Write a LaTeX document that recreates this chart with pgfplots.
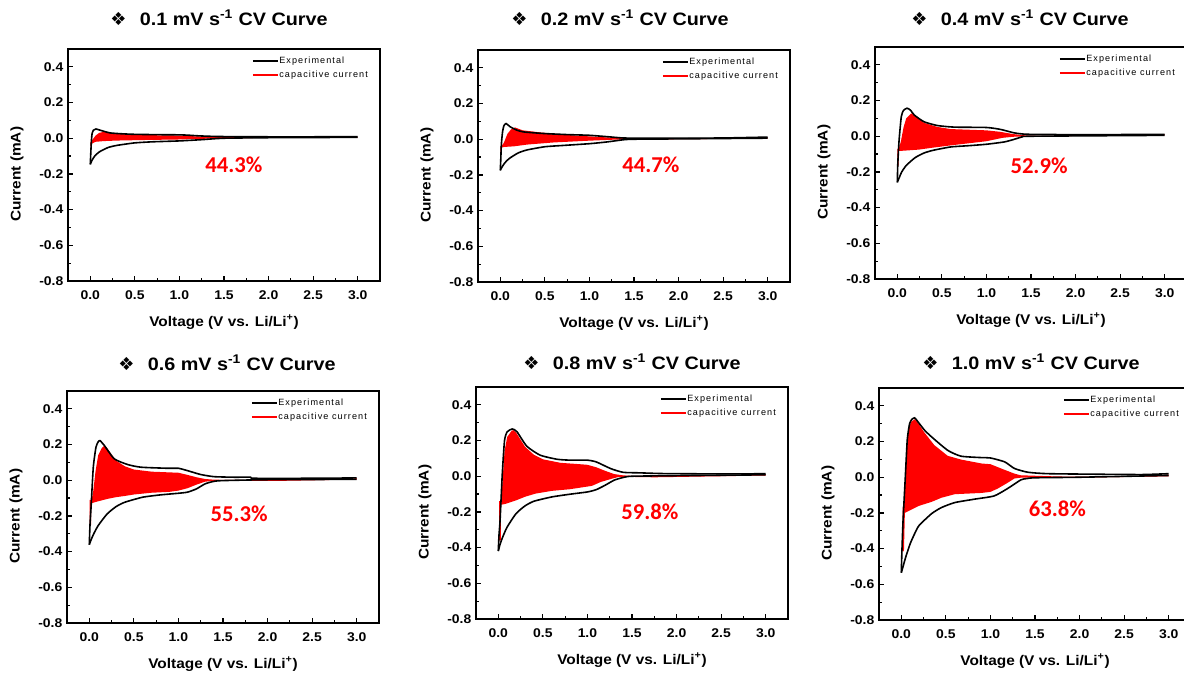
\documentclass[border=0pt]{standalone}
\usepackage{fontspec}
\setmainfont{Liberation Sans}[FakeStretch=1.1]
\newfontfamily\symfont{DejaVu Sans}
\newfontfamily\legfont{Liberation Sans}[LetterSpace=12]
\newfontfamily\pctfont{Carlito}
\usepackage{pgfplots}
\pgfplotsset{compat=1.18}

% one style for all six CV panels
\pgfplotsset{
  cv/.style={
    scale only axis, width=234pt, height=174pt, anchor=north west,
    xmin=-0.25, xmax=3.25, ymin=-0.8, ymax=0.5,
    xtick={0,0.5,1,1.5,2,2.5,3},
    ytick={-0.8,-0.6,-0.4,-0.2,0,0.2,0.4},
    minor x tick num=1, minor y tick num=1,
    xtick pos=bottom, ytick pos=left, tick align=inside,
    major tick length=4pt, minor tick length=2.5pt,
    axis line style={line width=1.2pt},
    every tick/.append style={black, line width=0.9pt},
    /pgf/number format/fixed, /pgf/number format/fixed zerofill,
    /pgf/number format/precision=1, /pgf/number format/assume math mode=true,
    ticklabel style={font=\bfseries\fontsize{9.5}{10}\selectfont},
    xticklabel style={yshift=-3.5pt},
    xlabel={Voltage (V vs. Li/Li\textsuperscript{+})},
    ylabel={Current (mA)},
    label style={font=\bfseries\fontsize{10.5}{12}\selectfont},
    xlabel style={at={(axis description cs:0.5,-0.1767)}, anchor=center},
    ylabel style={at={(axis description cs:-0.1635,0.46)}, anchor=center},
    legend style={at={(axis description cs:0.59,0.97)}, anchor=north west,
      draw=none, fill=none, inner sep=0pt, outer sep=0pt, row sep=2.8pt,
      font=\legfont\fontsize{6.8}{7}\selectfont,
      nodes={inner sep=0.6pt, text height=5pt, text depth=1.5pt}},
    legend cell align=left,
    legend image code/.code={\draw[#1] (0pt,0pt) -- (18.75pt,0pt);},
  },
  exp/.style={black, line width=1.2pt, forget plot, smooth, tension=0.35},
  cap/.style={fill=red, draw=none, forget plot},
}
\tikzset{pct/.style={text=red, font=\pctfont\bfseries\fontsize{17}{20}\selectfont}}
\newcommand{\leg}{%
  \addlegendimage{black, line width=1.1pt}\addlegendentry{Experimental}
  \addlegendimage{red, line width=1.1pt}\addlegendentry{capacitive current}}
\newcommand{\ttl}[1]{{\symfont ❖}\hspace{10pt}#1 mV s\textsuperscript{-1} CV Curve}

\begin{document}
\begin{tikzpicture}
\path[use as bounding box] (0pt,0pt) rectangle (888pt,-504.75pt);

% ---- 0.1 mV/s
\begin{axis}[cv, at={(51pt,-36.75pt)}]
\leg
\addplot[cap] coordinates {(0,-0.02) (0.01,-0.02) (0.03,-0.005) (0.06,0.015) (0.1,0.03) (0.15,0.036) (0.25,0.028) (0.5,0.02) (0.8,0.016) (1.0,0.015) (1.2,0.01) (1.5,0.006) (2.0,0.004) (2.8,0.006) (3.0,0.008)
 (3.0,0.004) (2.0,0.002) (1.5,0.0) (1.2,-0.004) (1.0,-0.007) (0.6,-0.01) (0.3,-0.013) (0.15,-0.016) (0.06,-0.02) (0.02,-0.03) (0.01,-0.045) (0,-0.045)} -- cycle;
% anodic and cathodic branches
\addplot[exp] coordinates {(0,-0.146) (0.005,-0.09) (0.012,-0.02) (0.02,0.025) (0.035,0.045) (0.063,0.052) (0.11,0.045) (0.22,0.03) (0.35,0.025) (0.49,0.022) (0.75,0.02) (1.0,0.019) (1.1,0.017) (1.23,0.013) (1.4,0.01) (1.6,0.009) (2.0,0.008) (2.5,0.008) (3.0,0.009)};
\addplot[exp] coordinates {(3.0,0.005) (2.5,0.004) (2.0,0.003) (1.5,0.0) (1.25,-0.008) (1.0,-0.015) (0.7,-0.02) (0.5,-0.026) (0.3,-0.04) (0.2,-0.052) (0.1,-0.077) (0.05,-0.1) (0.02,-0.123) (0,-0.146)};
\node[pct] at (axis cs:1.61,-0.151) {44.3\%};
\end{axis}

% ---- 0.2 mV/s
\begin{axis}[cv, at={(358.5pt,-37.5pt)}]
\leg
\addplot[cap] coordinates {(0,-0.04) (0.01,-0.04) (0.04,-0.02) (0.08,0.03) (0.12,0.055) (0.165,0.066) (0.25,0.05) (0.45,0.038) (0.8,0.022) (1.0,0.016) (1.2,0.01) (1.5,0.004) (2.0,0.002) (2.9,0.004) (3.0,0.01)
 (3.0,0.004) (2.0,0.0) (1.5,-0.001) (1.3,-0.002) (1.0,-0.008) (0.6,-0.018) (0.3,-0.03) (0.15,-0.04) (0.05,-0.043) (0.02,-0.045) (0.01,-0.085) (0,-0.085)} -- cycle;
\addplot[exp] coordinates {(0,-0.174) (0.005,-0.12) (0.012,-0.03) (0.025,0.04) (0.04,0.075) (0.065,0.088) (0.11,0.07) (0.18,0.052) (0.26,0.041) (0.49,0.032) (0.75,0.026) (1.0,0.022) (1.23,0.013) (1.38,0.007) (1.6,0.006) (2.0,0.006) (2.5,0.007) (3.0,0.012)};
\addplot[exp] coordinates {(3.0,0.006) (2.0,0.002) (1.5,0.0) (1.38,-0.003) (1.2,-0.015) (1.0,-0.025) (0.7,-0.035) (0.5,-0.042) (0.3,-0.06) (0.2,-0.077) (0.1,-0.108) (0.05,-0.133) (0.02,-0.155) (0,-0.174)};
\node[pct] at (axis cs:1.69,-0.142) {44.7\%};
\end{axis}

% ---- 0.4 mV/s
\begin{axis}[cv, at={(656.25pt,-35.25pt)}]
\leg
\addplot[cap] coordinates {(0,-0.07) (0.015,-0.07) (0.04,-0.03) (0.07,0.05) (0.1,0.1) (0.157,0.128) (0.2,0.115) (0.3,0.075) (0.45,0.052) (0.6,0.04) (1.0,0.033) (1.15,0.025) (1.3,0.012) (1.45,0.004) (1.6,0.002) (2.7,0.004) (3.0,0.01)
 (3.0,0.005) (1.6,0.0) (1.45,-0.001) (1.3,-0.003) (1.18,-0.009) (1.0,-0.028) (0.62,-0.05) (0.4,-0.064) (0.24,-0.075) (0.1,-0.08) (0.04,-0.082) (0.015,-0.082) (0.015,-0.165) (0,-0.165)} -- cycle;
\addplot[exp] coordinates {(0,-0.258) (0.006,-0.15) (0.02,-0.023) (0.045,0.11) (0.07,0.145) (0.11,0.157) (0.15,0.145) (0.19,0.119) (0.3,0.081) (0.45,0.06) (0.64,0.051) (1.0,0.049) (1.16,0.038) (1.31,0.019) (1.46,0.011) (2.0,0.009) (3.0,0.01)};
\addplot[exp] coordinates {(3.0,0.005) (1.5,0.0) (1.4,-0.004) (1.3,-0.019) (1.2,-0.032) (1.0,-0.045) (0.8,-0.053) (0.6,-0.06) (0.4,-0.079) (0.3,-0.094) (0.2,-0.12) (0.1,-0.164) (0.05,-0.2) (0.02,-0.234) (0,-0.258)};
\node[pct] at (axis cs:1.59,-0.168) {52.9\%};
\end{axis}

% ---- 0.6 mV/s
\begin{axis}[cv, at={(50.25pt,-293.25pt)}]
\leg
\addplot[cap] coordinates {(0.005,-0.11) (0.02,-0.11) (0.04,-0.08) (0.07,0.05) (0.1,0.14) (0.14,0.18) (0.168,0.193) (0.2,0.18) (0.3,0.11) (0.4,0.078) (0.5,0.06) (0.7,0.048) (1.0,0.042) (1.1,0.03) (1.2,0.017) (1.3,0.007) (1.4,0.003) (2.0,0.0) (2.9,0.004) (3.0,0.012)
 (3.0,0.004) (2.2,-0.003) (1.5,-0.004) (1.4,-0.003) (1.3,-0.008) (1.2,-0.025) (1.1,-0.045) (1.0,-0.058) (0.9,-0.065) (0.7,-0.07) (0.5,-0.08) (0.4,-0.088) (0.3,-0.095) (0.2,-0.105) (0.1,-0.118) (0.05,-0.125) (0.02,-0.13) (0.02,-0.25) (0.005,-0.25)} -- cycle;
\addplot[exp] coordinates {(0,-0.361) (0.008,-0.25) (0.02,-0.15) (0.045,0.073) (0.075,0.185) (0.1,0.215) (0.12,0.222) (0.17,0.194) (0.28,0.12) (0.43,0.088) (0.58,0.073) (0.88,0.067) (1.0,0.067) (1.1,0.054) (1.25,0.032) (1.4,0.02) (1.62,0.017) (1.81,0.017) (1.85,0.011) (2.5,0.011) (3.0,0.013)};
\addplot[exp] coordinates {(3.0,0.005) (2.0,0.003) (1.5,-0.002) (1.4,-0.006) (1.3,-0.02) (1.2,-0.049) (1.1,-0.067) (1.0,-0.073) (0.8,-0.082) (0.6,-0.095) (0.4,-0.123) (0.3,-0.148) (0.2,-0.189) (0.1,-0.254) (0.05,-0.3) (0.02,-0.334) (0,-0.361)};
\node[pct] at (axis cs:1.68,-0.188) {55.3\%};
\end{axis}

% ---- 0.8 mV/s
\begin{axis}[cv, at={(357pt,-290.25pt)}]
\leg
\addplot[cap] coordinates {(0.01,-0.14) (0.03,-0.14) (0.045,-0.05) (0.07,0.14) (0.1,0.22) (0.15,0.255) (0.17,0.258) (0.2,0.245) (0.3,0.165) (0.4,0.12) (0.5,0.095) (0.7,0.075) (0.9,0.068) (1.0,0.064) (1.1,0.05) (1.2,0.03) (1.3,0.012) (1.4,0.005) (1.5,0.002) (1.75,0.002) (2.7,0.003) (3.0,0.012)
 (3.0,0.004) (1.75,-0.006) (1.5,-0.004) (1.35,-0.004) (1.28,-0.013) (1.15,-0.032) (1.05,-0.054) (0.8,-0.073) (0.6,-0.082) (0.42,-0.097) (0.3,-0.115) (0.2,-0.135) (0.08,-0.155) (0.03,-0.16) (0.03,-0.36) (0.01,-0.36)} -- cycle;
\addplot[exp] coordinates {(0,-0.419) (0.008,-0.33) (0.02,-0.247) (0.045,0.015) (0.07,0.2) (0.1,0.249) (0.157,0.265) (0.21,0.249) (0.32,0.168) (0.47,0.118) (0.66,0.095) (0.81,0.09) (1.0,0.09) (1.1,0.08) (1.26,0.043) (1.4,0.022) (1.59,0.019) (1.85,0.015) (2.5,0.013) (3.0,0.014)};
\addplot[exp] coordinates {(3.0,0.008) (2.0,0.003) (1.5,0.0) (1.4,-0.007) (1.3,-0.022) (1.2,-0.05) (1.1,-0.075) (1.0,-0.088) (0.8,-0.101) (0.6,-0.116) (0.4,-0.14) (0.3,-0.166) (0.2,-0.209) (0.1,-0.284) (0.05,-0.34) (0.02,-0.381) (0,-0.419)};
\node[pct] at (axis cs:1.70,-0.2) {59.8\%};
\end{axis}

% ---- 1.0 mV/s
\begin{axis}[cv, at={(659.25pt,-291pt)}]
\leg
\addplot[cap] coordinates {(0.015,-0.17) (0.03,-0.16) (0.045,0.0) (0.06,0.18) (0.08,0.27) (0.11,0.31) (0.15,0.325) (0.18,0.31) (0.26,0.25) (0.37,0.18) (0.52,0.12) (0.67,0.099) (0.9,0.077) (1.0,0.073) (1.12,0.049) (1.27,0.02) (1.34,0.011) (1.64,0.006) (1.9,0.003) (2.7,0.005) (3.0,0.015)
 (3.0,0.005) (1.9,-0.003) (1.5,-0.002) (1.35,-0.002) (1.27,-0.007) (1.18,-0.035) (1.08,-0.064) (1.0,-0.082) (0.9,-0.088) (0.6,-0.095) (0.45,-0.115) (0.34,-0.138) (0.2,-0.16) (0.1,-0.185) (0.04,-0.2) (0.03,-0.41) (0.015,-0.42)} -- cycle;
\addplot[exp] coordinates {(0,-0.535) (0.008,-0.4) (0.02,-0.24) (0.045,0.0) (0.067,0.21) (0.093,0.3) (0.12,0.325) (0.15,0.333) (0.18,0.315) (0.26,0.264) (0.34,0.226) (0.52,0.151) (0.67,0.118) (0.9,0.11) (1.0,0.108) (1.16,0.086) (1.27,0.049) (1.42,0.028) (1.64,0.02) (2.17,0.017) (2.7,0.015) (3.0,0.02)};
\addplot[exp] coordinates {(3.0,0.01) (2.0,0.0) (1.5,-0.003) (1.4,-0.008) (1.34,-0.015) (1.19,-0.064) (1.04,-0.105) (0.82,-0.123) (0.6,-0.142) (0.45,-0.17) (0.34,-0.204) (0.2,-0.27) (0.15,-0.316) (0.1,-0.372) (0.05,-0.447) (0.02,-0.5) (0,-0.535)};
\node[pct] at (axis cs:1.75,-0.175) {63.8\%};
\end{axis}

% panel titles
\begin{scope}[every node/.style={font=\bfseries\fontsize{13.5}{16}\selectfont}]
\node at (164.25pt,-13.5pt) {\ttl{0.1}};
\node at (465pt,-13.5pt) {\ttl{0.2}};
\node at (765pt,-13.5pt) {\ttl{0.4}};
\node at (170.25pt,-272.25pt) {\ttl{0.6}};
\node at (474pt,-271.5pt) {\ttl{0.8}};
\node at (773.25pt,-271.5pt) {\ttl{1.0}};
\end{scope}
\end{tikzpicture}
\end{document}
